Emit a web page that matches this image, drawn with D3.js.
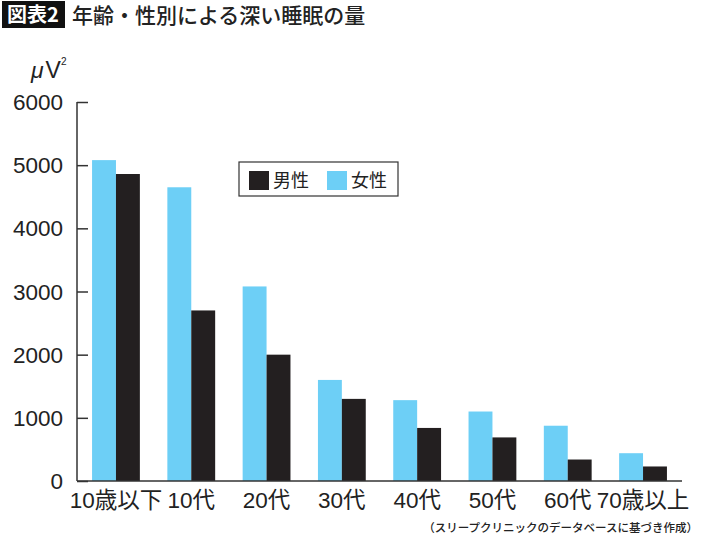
<!DOCTYPE html>
<html>
<head>
<meta charset="utf-8">
<script src="https://cdn.jsdelivr.net/npm/d3@7"></script>
<style>
  body { margin: 0; background: #fff; }
  svg { display: block; font-family: "Liberation Sans", "Noto Sans CJK JP", sans-serif; }
</style>
</head>
<body>
<svg id="chart"></svg>
<script>
const ageGroups = ["10歳以下", "10代", "20代", "30代", "40代", "50代", "60代", "70歳以上"];
const femaleValues = [5080, 4650, 3080, 1600, 1280, 1100, 875, 440];
const maleValues = [4860, 2700, 2000, 1300, 840, 690, 340, 230];
const yTicks = [0, 1000, 2000, 3000, 4000, 5000, 6000];
const seriesNames = ["女性", "男性"];

const W = 710, H = 537;
const cjk = "'Noto Sans CJK JP', sans-serif";

const svg = d3.select("#chart").attr("width", W).attr("height", H);

const x = d3.scaleBand().domain(ageGroups).range([77, 682]).paddingInner(0.365).paddingOuter(0.2);
const xSub = d3.scaleBand().domain(seriesNames).range([0, x.bandwidth()]);
const y = d3.scaleLinear().domain([0, 6000]).range([481, 102]);

const color = d3.scaleOrdinal().domain(seriesNames).range(["#6dcff6", "#231f20"]);

// title
svg.append("rect").attr("x", 2).attr("y", 1).attr("width", 63).attr("height", 27).attr("fill", "#111");
svg.append("text").attr("x", 33).attr("y", 22).attr("text-anchor", "middle")
    .attr("fill", "#fff").attr("font-size", 20).attr("font-weight", "bold")
    .style("font-family", cjk).text("図表2");
svg.append("text").attr("x", 72).attr("y", 23)
    .attr("fill", "#222").attr("font-size", 21).attr("font-weight", 500)
    .style("font-family", cjk).text("年齢・性別による深い睡眠の量");

// unit
const unit = svg.append("text").attr("x", 31).attr("y", 78).attr("font-size", 23).attr("fill", "#222");
unit.append("tspan").attr("font-style", "italic").text("μ");
unit.append("tspan").attr("dx", 2).text("V");
unit.append("tspan").attr("font-size", 10).attr("dy", -13).text("2");

// bars
const rows = ageGroups.map((g, i) => ({ group: g, values: [
    { key: "女性", value: femaleValues[i] },
    { key: "男性", value: maleValues[i] }
]}));

svg.append("g").selectAll("g")
    .data(rows)
    .enter().append("g")
    .attr("transform", d => "translate(" + x(d.group) + ",0)")
    .selectAll("rect")
    .data(d => d.values)
    .enter().append("rect")
    .attr("x", d => xSub(d.key))
    .attr("y", d => y(d.value))
    .attr("width", xSub.bandwidth())
    .attr("height", d => y(0) - y(d.value))
    .attr("fill", d => color(d.key));

// y axis
const yAxis = d3.axisRight(y).tickValues(yTicks).tickSize(11).tickFormat("");
const gy = svg.append("g").attr("transform", "translate(77,0)").call(yAxis);
gy.select(".domain").remove();
gy.selectAll(".tick line").attr("stroke", "#333").attr("stroke-width", 1.5);
svg.append("line").attr("x1", 77).attr("x2", 77).attr("y1", y(6000)).attr("y2", y(0))
    .attr("stroke", "#333").attr("stroke-width", 1.5);

svg.append("g").selectAll("text")
    .data(yTicks)
    .enter().append("text")
    .attr("x", 63)
    .attr("y", d => y(d))
    .attr("dy", "0.36em")
    .attr("text-anchor", "end")
    .attr("font-size", 22.5)
    .attr("fill", "#222")
    .text(d => d);

// x axis
svg.append("line").attr("x1", 77).attr("x2", 682).attr("y1", y(0)).attr("y2", y(0))
    .attr("stroke", "#333").attr("stroke-width", 1.5);

svg.append("g").selectAll("text")
    .data(ageGroups)
    .enter().append("text")
    .attr("x", d => x(d) + x.bandwidth() / 2)
    .attr("y", 508)
    .attr("text-anchor", "middle")
    .attr("font-size", 22.5)
    .attr("fill", "#222")
    .text(d => d);

// legend
const legend = svg.append("g");
legend.append("rect").attr("x", 239).attr("y", 162).attr("width", 159).attr("height", 34)
    .attr("fill", "#fff").attr("stroke", "#333").attr("stroke-width", 1.2);
const legendItems = [{ key: "男性", x: 249 }, { key: "女性", x: 327 }];
legendItems.forEach(d => {
    legend.append("rect").attr("x", d.x).attr("y", 171).attr("width", 20).attr("height", 19)
        .attr("fill", color(d.key));
    legend.append("text").attr("x", d.x + 24).attr("y", 187)
        .attr("font-size", 18).attr("fill", "#222").style("font-family", cjk).text(d.key);
});

// source
svg.append("text").attr("x", 698).attr("y", 532).attr("text-anchor", "end")
    .attr("font-size", 11.5).attr("fill", "#222").attr("font-weight", 500)
    .style("font-family", cjk).text("（スリープクリニックのデータベースに基づき作成）");
</script>
</body>
</html>
